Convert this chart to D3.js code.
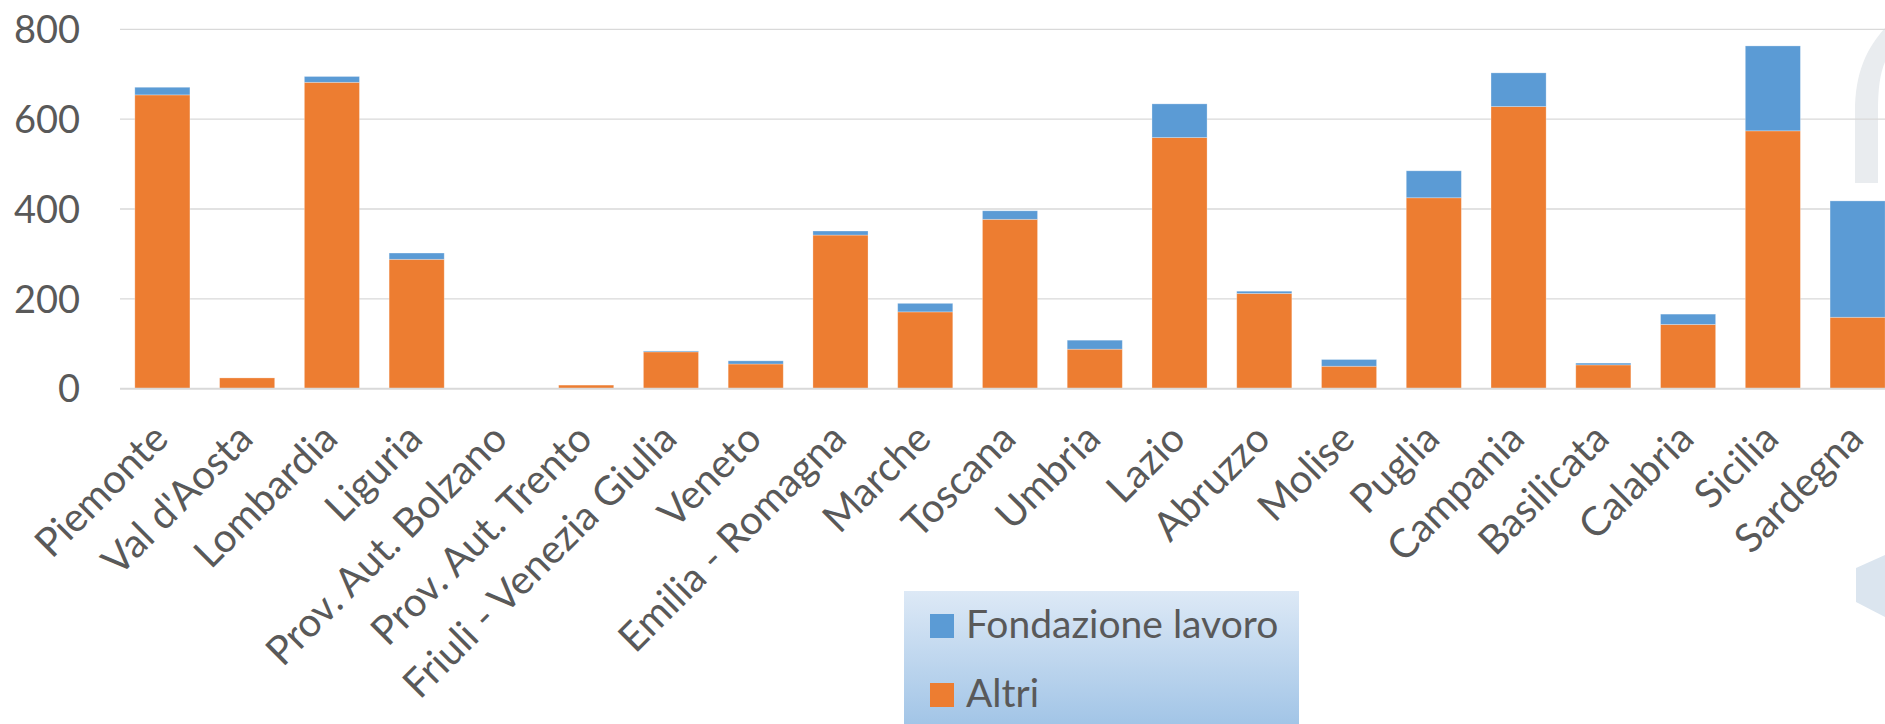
<!DOCTYPE html>
<html>
<head>
<meta charset="utf-8">
<script src="https://cdn.jsdelivr.net/npm/d3@7"></script>
<style>
  body { margin: 0; background: #fff; }
  svg { display: block; font-family: Lato, "Open Sans", sans-serif; }
</style>
</head>
<body>
<svg id="chart" width="1885" height="724"></svg>
<script>
const regions = ['Piemonte', "Val d'Aosta", 'Lombardia', 'Liguria', 'Prov. Aut. Bolzano',
  'Prov. Aut. Trento', 'Friuli - Venezia Giulia', 'Veneto', 'Emilia - Romagna', 'Marche',
  'Toscana', 'Umbria', 'Lazio', 'Abruzzo', 'Molise', 'Puglia', 'Campania', 'Basilicata',
  'Calabria', 'Sicilia', 'Sardegna'];
const altri =      [654, 24, 682, 288, 1, 8, 82, 55, 342, 171, 377, 88, 559, 212, 50, 425, 628, 53, 143, 574, 159];
const fondazione = [17, 0, 13, 14, 0, 0, 2, 7, 9, 19, 19, 20, 75, 5, 15, 60, 75, 4, 23, 189, 259];
const yTicks = [0, 200, 400, 600, 800];
const seriesNames = ['Altri', 'Fondazione lavoro'];
const seriesColors = {'Altri': '#ED7D31', 'Fondazione lavoro': '#5B9BD5'};

const svg = d3.select('#chart');
const textColor = '#595959';

const x = d3.scaleBand()
  .domain(regions)
  .range([120, 1900])
  .paddingInner(0.35)
  .paddingOuter(0.175);

const y = d3.scaleLinear()
  .domain([0, 800])
  .range([388.7, 29.3]);

// watermark shapes
svg.append('path')
  .attr('d', 'M1855,183 L1855,112 C1855,72 1867,48 1885,28 L1885,62 C1880,74 1878,88 1878,112 L1878,183 Z')
  .attr('fill', '#e9ecef');
svg.append('path')
  .attr('d', 'M1856,568 L1885,555 L1885,617 L1856,602 Z')
  .attr('fill', '#dbe5ef');

// gridlines
svg.append('g')
  .selectAll('line')
  .data(yTicks.filter(d => d > 0))
  .join('line')
  .attr('x1', 120).attr('x2', 1885)
  .attr('y1', d => y(d)).attr('y2', d => y(d))
  .attr('stroke', '#d9d9d9')
  .attr('stroke-width', 1.3);

// y labels
svg.append('g')
  .selectAll('text')
  .data(yTicks)
  .join('text')
  .attr('x', 80)
  .attr('y', d => y(d))
  .attr('dy', '0.36em')
  .attr('text-anchor', 'end')
  .attr('fill', textColor)
  .style('font-size', '38px')
  .text(d => d);

// stacked bars
const rows = regions.map((r, i) => ({region: r, 'Altri': altri[i], 'Fondazione lavoro': fondazione[i]}));
const stacked = d3.stack().keys(seriesNames)(rows);

svg.append('g')
  .selectAll('g')
  .data(stacked)
  .join('g')
  .attr('fill', d => seriesColors[d.key])
  .selectAll('rect')
  .data(d => d)
  .join('rect')
  .attr('x', d => x(d.data.region))
  .attr('width', x.bandwidth())
  .attr('y', d => y(d[1]))
  .attr('height', d => y(d[0]) - y(d[1]))
  .attr('stroke', '#fff')
  .attr('stroke-opacity', 0.35)
  .attr('stroke-width', 0.8);

// baseline axis
svg.append('line')
  .attr('x1', 120).attr('x2', 1885)
  .attr('y1', y(0)).attr('y2', y(0))
  .attr('stroke', '#d9d9d9')
  .attr('stroke-width', 2);

// category labels
svg.append('g')
  .selectAll('text')
  .data(regions)
  .join('text')
  .attr('transform', d => `translate(${x(d) + x.bandwidth() / 2 + 8},441) rotate(-45)`)
  .attr('text-anchor', 'end')
  .attr('fill', textColor)
  .style('font-size', '40px')
  .text(d => d);

// legend
const defs = svg.append('defs');
const grad = defs.append('linearGradient')
  .attr('id', 'legendGrad')
  .attr('x1', 0).attr('y1', 0).attr('x2', 0).attr('y2', 1);
grad.append('stop').attr('offset', '0%').attr('stop-color', '#dde9f6');
grad.append('stop').attr('offset', '100%').attr('stop-color', '#9fc3e6');

const legend = svg.append('g').attr('transform', 'translate(904,591)');
legend.append('rect')
  .attr('width', 395)
  .attr('height', 140)
  .attr('fill', 'url(#legendGrad)');

const legendItems = ['Fondazione lavoro', 'Altri'];
const item = legend.selectAll('g.item')
  .data(legendItems)
  .join('g')
  .attr('class', 'item')
  .attr('transform', (d, i) => `translate(26,${23 + i * 69})`);
item.append('rect')
  .attr('width', 24).attr('height', 24)
  .attr('fill', d => seriesColors[d]);
item.append('text')
  .attr('x', 36)
  .attr('y', 24)
  .attr('fill', textColor)
  .style('font-size', '39px')
  .text(d => d);
</script>
</body>
</html>
